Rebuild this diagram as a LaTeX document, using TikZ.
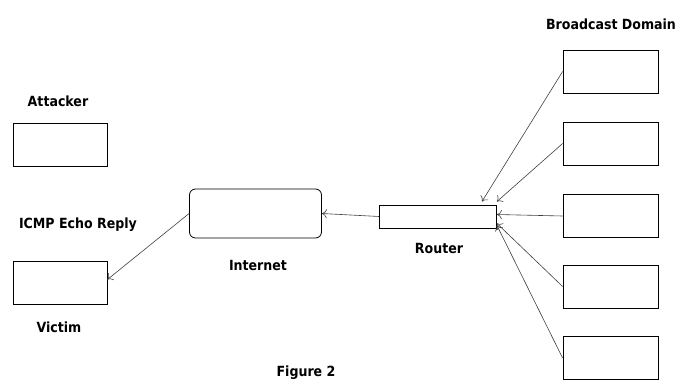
\documentclass[tikz,border=0pt]{standalone}
\usepackage{fontspec}
\setmainfont{DejaVu Sans Condensed}
\usetikzlibrary{positioning,calc,arrows.meta}
\begin{document}
\begin{tikzpicture}[x=1pt,y=-1pt,
  host/.style={draw,minimum width=94pt,minimum height=43pt,inner sep=0pt,line width=0.8pt},
  lbl/.style={font=\bfseries\fontsize{14}{14}\selectfont,inner sep=0pt},
  link/.style={draw=black!75,-{To[length=5pt,width=9pt]},line width=0.6pt}]
\useasboundingbox (0,0) rectangle (682,380);
\fill[white] (0,0) rectangle (682,380);
% left side
\node[lbl] (attackertext) at (58,101) {Attacker};
\node[host] (attacker) at (60.5,144.5) {};
\node[lbl] (replytext) at (78,225) {ICMP Echo Reply};
\node[host] (victim) at (60,282.5) {};
\node[lbl] (victimtext) at (59,327) {Victim};
% middle
\node[host,rounded corners=6pt,minimum width=132pt,minimum height=49pt] (internet) at (255.5,213.5) {};
\node[lbl] (internettext) at (258,265) {Internet};
\node[host,minimum width=117pt,minimum height=23pt] (router) at (438,216.5) {};
\node[lbl] (routertext) at (439,248) {Router};
% broadcast domain
\node[lbl] (domaintext) at (611,24) {Broadcast Domain};
\foreach \i/\y in {1/71.5,2/143.5,3/216,4/286.5,5/358}
  \node[host,minimum width=95pt] (bd\i) at (610.5,\y) {};
\node[lbl,anchor=base] (caption) at (306,376) {Figure 2};
% traffic
\draw[link] (router.west) -- (internet.east);
\draw[link] (internet.west) -- ($(victim.east)+(0,-3)$);
\draw[link] (bd1.west) -- ($(router.north east)+(-15,-3)$);
\draw[link] (bd2.west) -- ($(router.north east)+(0,-3)$);
\draw[link] (bd3.west) -- ($(router.east)+(0,-2)$);
\draw[link] (bd4.west) -- ($(router.south east)+(0,-5)$);
\draw[link] (bd5.west) -- ($(router.south east)+(0,-3)$);
\end{tikzpicture}
\end{document}
